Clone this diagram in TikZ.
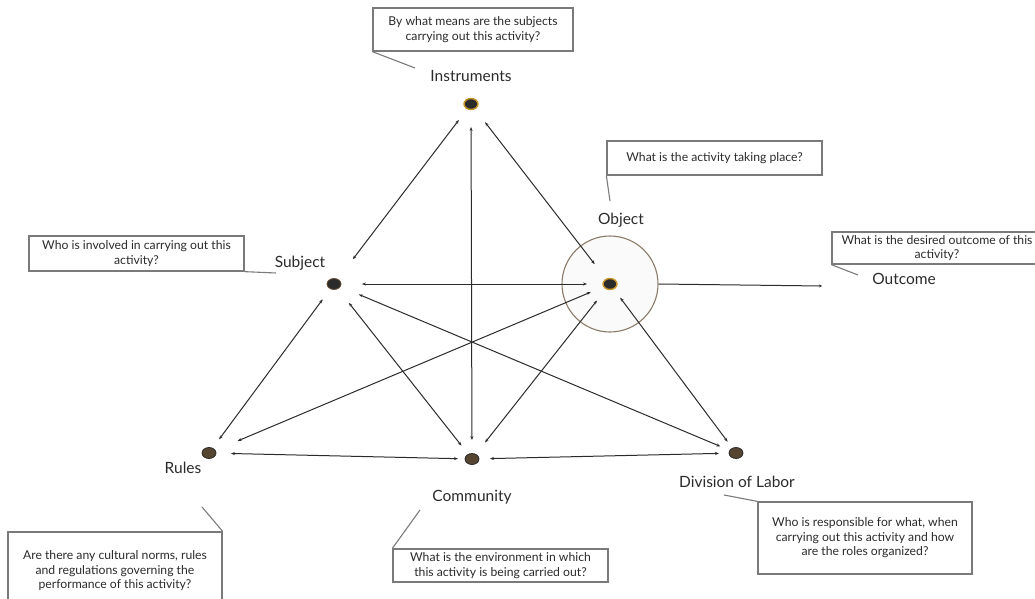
\documentclass[tikz,border=0pt]{standalone}
\usepackage{fontspec}
\setmainfont{Lato}
\usetikzlibrary{arrows.meta,shapes.geometric}
\definecolor{ink}{HTML}{2B2B2B}
\definecolor{boxline}{HTML}{7A7A7A}
\definecolor{gold}{HTML}{C8962A}
\definecolor{brownfill}{HTML}{564631}
\definecolor{ringline}{HTML}{8B7B68}
\begin{document}
\begin{tikzpicture}[x=1pt,y=-1pt,
  qbox/.style={draw=boxline,line width=1.3pt,fill=white,align=center,inner sep=0pt,
    font=\fontsize{12.2}{14.5}\selectfont,text=ink},
  lbl/.style={font=\fontsize{15.5}{17}\selectfont,text=ink,inner sep=0pt},
  callout/.style={draw=boxline,line width=1.1pt},
  link/.style={draw=ink,line width=1pt,
    {Stealth[length=4pt,width=3pt]}-{Stealth[length=4pt,width=3pt]}},
  dotgold/.style={ellipse,draw=gold,line width=1.4pt,fill=ink,
    minimum width=14pt,minimum height=11pt,inner sep=0pt},
  dotdark/.style={ellipse,draw=ink!60!brown,line width=0.8pt,fill=ink,
    minimum width=14pt,minimum height=11pt,inner sep=0pt},
  dotbrown/.style={ellipse,draw=ink,line width=0.8pt,fill=brownfill,
    minimum width=14pt,minimum height=11pt,inner sep=0pt}]
\useasboundingbox (0,0) rectangle (1035,599);

% highlighted object zone
\node[circle,draw=ringline,line width=1.1pt,fill=black!2,minimum size=96pt,inner sep=0pt]
  (ring) at (610,284) {};

% activity elements
\node[dotgold]  (I) at (471,104) {};
\node[dotdark]  (S) at (334,284) {};
\node[dotgold]  (O) at (610,284) {};
\node[dotbrown] (R) at (209,453) {};
\node[dotbrown] (C) at (472,459) {};
\node[dotbrown] (D) at (736,453) {};

% element names
\node[lbl] (lI) at (471,76)  {Instruments};
\node[lbl] (lS) at (300,263) {Subject};
\node[lbl] (lO) at (621,220) {Object};
\node[lbl] (lR) at (183,468) {Rules};
\node[lbl] (lC) at (472,497) {Community};
\node[lbl] (lD) at (737,482) {Division of Labor};
\node[lbl] (lOut) at (904,279) {Outcome};

% relations between elements
\draw[link,shorten <=20pt,shorten >=31pt] (I.center) -- (S.center);
\draw[link,shorten <=23pt,shorten >=19pt] (I.center) -- (C.center);
\draw[link,shorten <=23pt,shorten >=25pt] (I.center) -- (O.center);
\draw[link,shorten <=28pt,shorten >=23pt] (S.center) -- (O.center);
\draw[link,shorten <=27pt,shorten >=17pt] (S.center) -- (D.center);
\draw[link,shorten <=24pt,shorten >=17pt] (S.center) -- (C.center);
\draw[link,shorten <=19pt,shorten >=17pt] (S.center) -- (R.center);
\draw[link,shorten <=21pt,shorten >=31pt] (O.center) -- (R.center);
\draw[link,shorten <=21pt,shorten >=21pt] (O.center) -- (C.center);
\draw[link,shorten <=17pt,shorten >=14pt] (O.center) -- (D.center);
\draw[link,shorten <=22pt,shorten >=14pt] (R.center) -- (C.center);
\draw[link,shorten <=18pt,shorten >=17pt] (C.center) -- (D.center);

% outcome
\coordinate (outEnd) at (822,286);
\draw[draw=ink,line width=1pt,-{Stealth[length=3pt,width=3pt]}] (ring.east) -- (outEnd);

% guiding questions
\node[qbox,minimum width=200pt,minimum height=43pt] (qI) at (473,29.5)
  {By what means are the subjects\\carrying out this activity?};
\node[qbox,minimum width=215pt,minimum height=34pt] (qO) at (714.5,158)
  {What is the activity taking place?};
\node[qbox,minimum width=210pt,minimum height=32pt] (qOut) at (937,248)
  {What is the desired outcome of this\\activity?};
\node[qbox,minimum width=215pt,minimum height=35pt] (qS) at (136.5,253.5)
  {Who is involved in carrying out this\\activity?};
\node[qbox,minimum width=214pt,minimum height=78pt] (qR) at (115,571)
  {Are there any cultural norms, rules\\and regulations governing the\\performance of this activity?};
\node[qbox,minimum width=215pt,minimum height=33pt] (qC) at (500.5,565.5)
  {What is the environment in which\\this activity is being carried out?};
\node[qbox,minimum width=214pt,minimum height=72pt] (qD) at (865,538)
  {Who is responsible for what, when\\carrying out this activity and how\\are the roles organized?};

% callout pointers
\coordinate (pI) at (415,68);
\coordinate (pO) at (610,201);
\coordinate (pOut) at (858,275);
\coordinate (pS) at (276,273);
\coordinate (pR) at (202,507);
\coordinate (pC) at (420,510);
\coordinate (pD) at (724,495);
\draw[callout] (qI.south west) -- (pI);
\draw[callout] (qO.south west) -- (pO);
\draw[callout] (qOut.south west) -- (pOut);
\draw[callout] (qS.south east) -- (pS);
\draw[callout] (qR.north east) -- (pR);
\draw[callout] (qC.north west) -- (pC);
\draw[callout] (qD.north west) -- (pD);
\end{tikzpicture}
\end{document}
